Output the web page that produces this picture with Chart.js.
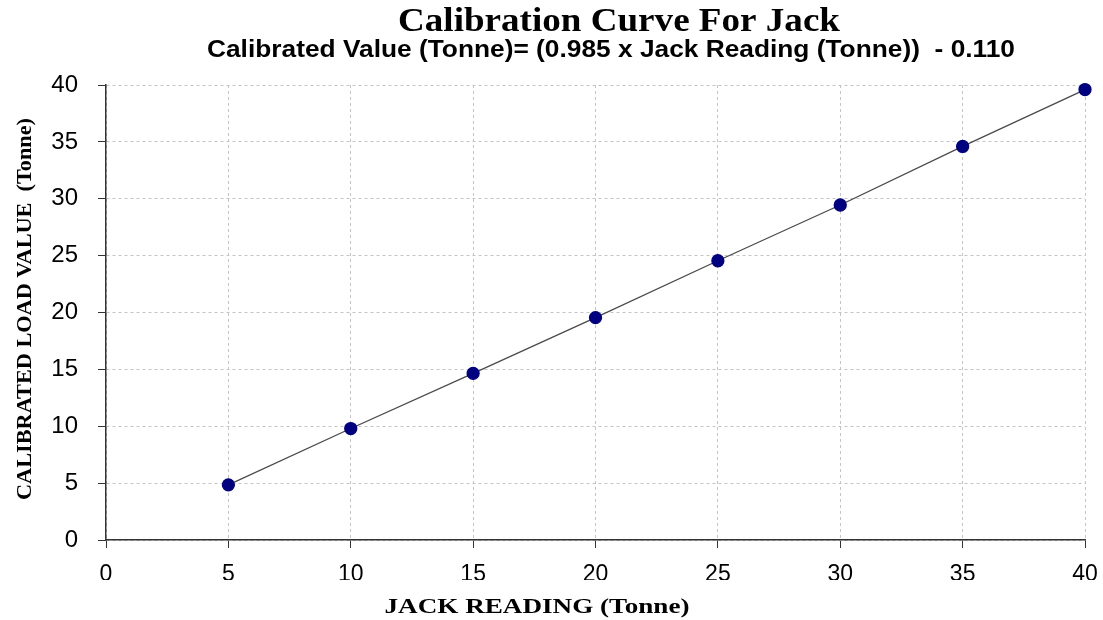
<!DOCTYPE html>
<html>
<head>
<meta charset="utf-8">
<script src="https://cdn.jsdelivr.net/npm/chart.js@4.4.1/dist/chart.umd.min.js"></script>
<style>
  html, body { margin: 0; padding: 0; background: #fff; }
  #wrap { width: 1103px; height: 620px; }
</style>
</head>
<body>
<div id="wrap"><canvas id="chart" width="1103" height="620"></canvas></div>
<script>
const jackReading = [5, 10, 15, 20, 25, 30, 35, 40];
const calibratedLoad = [4.85, 9.8, 14.65, 19.55, 24.55, 29.45, 34.6, 39.6];
const xTicks = [0, 5, 10, 15, 20, 25, 30, 35, 40];
const yTicks = [0, 5, 10, 15, 20, 25, 30, 35, 40];

const TITLE = "Calibration Curve For Jack";
const SUBTITLE = "Calibrated Value (Tonne)= (0.985 x Jack Reading (Tonne))  - 0.110";
const X_TITLE = "JACK READING (Tonne)";
const Y_TITLE = "CALIBRATED LOAD VALUE  (Tonne)";

// draw text centred at (x, y), squeezed/stretched to a given width
function fitText(ctx, text, x, y, width) {
  const w = ctx.measureText(text).width;
  ctx.save();
  ctx.translate(x, y);
  ctx.scale(width / w, 1);
  ctx.fillText(text, 0, 0);
  ctx.restore();
}

// titles sit off-centre in the original, so draw them by hand
const textPlugin = {
  id: 'textPlugin',
  afterDraw(chart) {
    const ctx = chart.ctx;
    ctx.save();
    ctx.fillStyle = '#000';
    ctx.textAlign = 'center';
    ctx.textBaseline = 'middle';

    ctx.font = 'bold 34px "Liberation Serif", serif';
    fitText(ctx, TITLE, 619, 22, 442);

    ctx.font = 'bold 23px "Liberation Sans", Arial, sans-serif';
    fitText(ctx, SUBTITLE, 611, 51, 808);

    ctx.font = 'bold 22px "Liberation Serif", serif';
    fitText(ctx, X_TITLE, 537, 607, 305);

    ctx.translate(25, 309);
    ctx.rotate(-Math.PI / 2);
    fitText(ctx, Y_TITLE, 0, 0, 382);
    ctx.restore();
  }
};

const axisStyle = {
  grid: {
    color: '#c4c4c4',
    lineWidth: 1,
    tickColor: '#333',
    tickLength: 8,
    tickBorderDash: []
  },
  border: { display: true, color: '#333', width: 1.5, dash: [3, 3] }
};

new Chart(document.getElementById('chart'), {
  type: 'scatter',
  data: {
    datasets: [{
      data: jackReading.map((x, i) => ({ x: x, y: calibratedLoad[i] })),
      showLine: true,
      clip: false,
      borderColor: '#4a4a4a',
      borderWidth: 1.3,
      backgroundColor: '#000080',
      pointBackgroundColor: '#000080',
      pointBorderColor: '#000080',
      pointRadius: 6,
      tension: 0
    }]
  },
  options: {
    responsive: false,
    animation: false,
    layout: { padding: { left: 40, right: 18, top: 85, bottom: 40 } },
    plugins: {
      legend: { display: false },
      tooltip: { enabled: false }
    },
    scales: {
      x: {
        type: 'linear',
        min: 0,
        max: 40,
        afterBuildTicks: s => { s.ticks = xTicks.map(v => ({ value: v })); },
        afterFit: s => { s.height = 40; s.paddingLeft = 0; s.paddingRight = 0; },
        ticks: {
          color: '#000',
          padding: 13,
          font: { family: '"Liberation Sans", Arial, sans-serif', size: 23 }
        },
        ...axisStyle
      },
      y: {
        type: 'linear',
        min: 0,
        max: 40,
        afterBuildTicks: s => { s.ticks = yTicks.map(v => ({ value: v })); },
        afterFit: s => { s.width = 66; s.paddingTop = 0; s.paddingBottom = 0; },
        ticks: {
          color: '#000',
          padding: 20,
          font: { family: '"Liberation Sans", Arial, sans-serif', size: 24 }
        },
        ...axisStyle
      }
    }
  },
  plugins: [textPlugin]
});
</script>
</body>
</html>
